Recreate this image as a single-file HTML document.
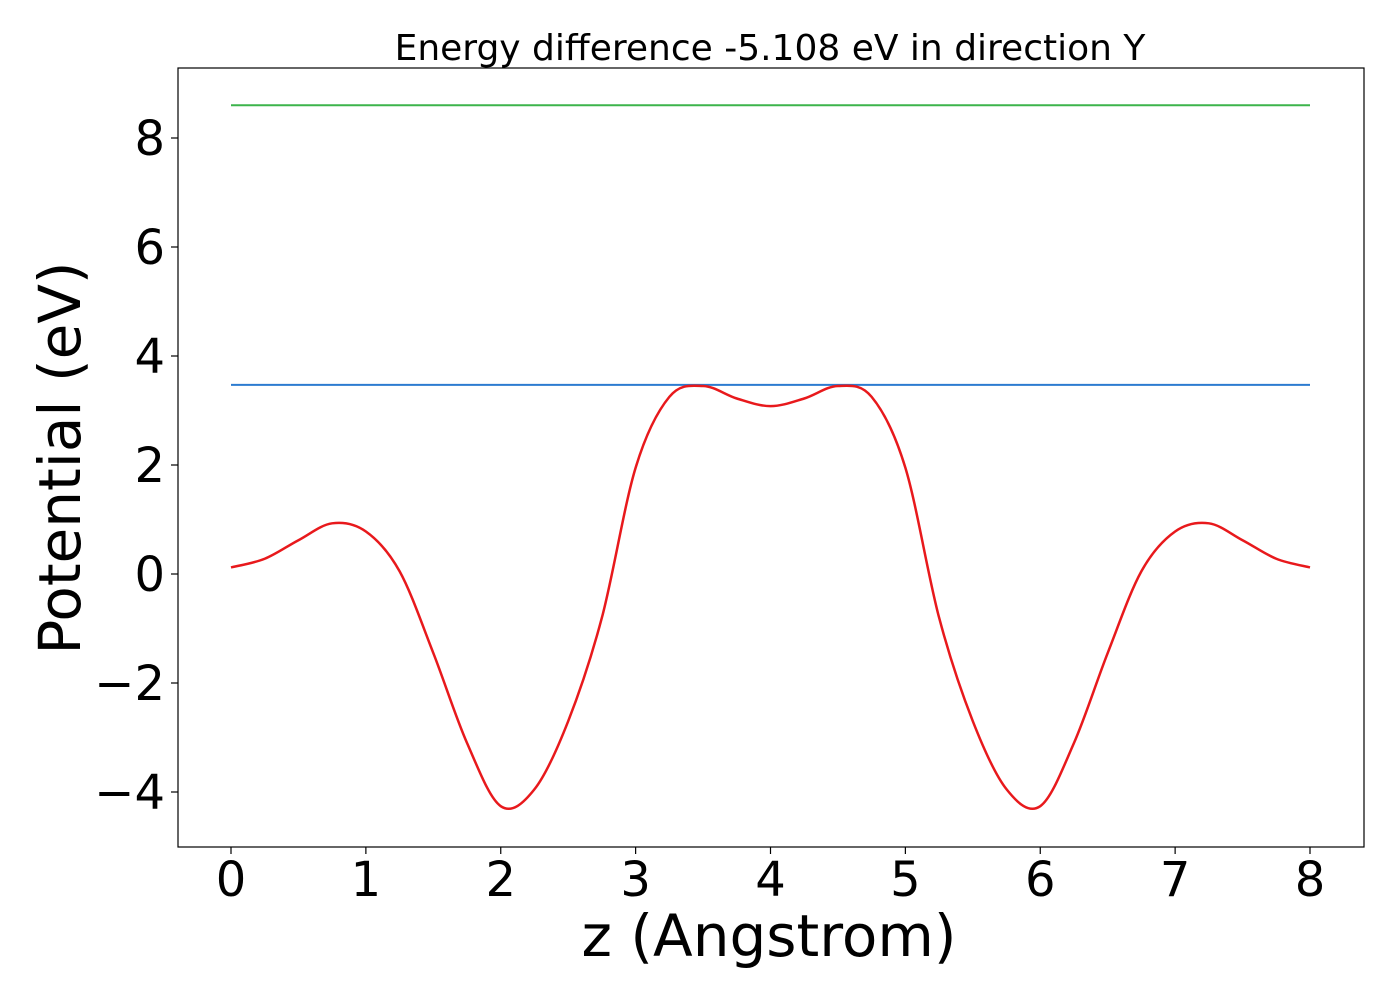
<!DOCTYPE html>
<html><head><meta charset="utf-8"><style>
body{margin:0;background:#fff;}
svg text{font-family:"DejaVu Sans","Liberation Sans",sans-serif;fill:#000;}
</style></head><body>
<svg id="chart" width="1400" height="1000" xmlns="http://www.w3.org/2000/svg">
<rect x="0" y="0" width="1400" height="1000" fill="#fff"/>
<text x="770" y="60" font-size="36" text-anchor="middle">Energy difference -5.108 eV in direction Y</text>
<g id="plot"></g>
<rect x="178" y="68" width="1186" height="779" fill="none" stroke="#000" stroke-width="1.2"/>
<text x="769" y="956" font-size="58" text-anchor="middle">z (Angstrom)</text>
<text transform="translate(80,458) rotate(-90)" font-size="58" text-anchor="middle">Potential (eV)</text>
</svg>
<script>
const zValues=[0,0.25,0.5,0.75,1,1.25,1.5,1.75,2,2.25,2.5,2.75,3,3.25,3.5,3.75,4,4.25,4.5,4.75,5,5.25,5.5,5.75,6,6.25,6.5,6.75,7,7.25,7.5,7.75,8];
const potential=[0.12,0.28,0.62,0.93,0.78,0.05,-1.45,-3.1,-4.26,-3.95,-2.7,-0.8,1.95,3.25,3.45,3.22,3.08,3.22,3.45,3.25,1.95,-0.8,-2.7,-3.95,-4.26,-3.1,-1.45,0.05,0.78,0.93,0.62,0.28,0.12];
const vacuumLevel=8.6;
const barrierLevel=3.47;
const xTicks=[0,1,2,3,4,5,6,7,8];
const yTicks=[-4,-2,0,2,4,6,8];
const X=v=>231+v*134.875;
const Y=v=>574-v*54.5;
const NS="http://www.w3.org/2000/svg";
const g=document.getElementById('plot');
function mk(t,a){const e=document.createElementNS(NS,t);for(const k in a)e.setAttribute(k,a[k]);g.appendChild(e);return e;}
xTicks.forEach(t=>{
 const l=mk('line',{x1:X(t),x2:X(t),y1:847,y2:854,stroke:'#000','stroke-width':1.2});
 
 
 const s=mk('text',{x:X(t),y:896,'font-size':48,'text-anchor':'middle'});s.textContent=String(t);
 
 
});
yTicks.forEach(t=>{
 const l=mk('line',{x1:171,x2:178,y1:Y(t),y2:Y(t),stroke:'#000','stroke-width':1.2});
 
 
 const s=mk('text',{x:165,y:Y(t)+17,'font-size':48,'text-anchor':'end'});s.textContent=(t<0?'\u2212'+(-t):String(t));
 
 
});
const gl=mk('line',{x1:X(0),x2:X(8),y1:Y(vacuumLevel),y2:Y(vacuumLevel),stroke:'#3cb44b','stroke-width':2});


const bl=mk('line',{x1:X(0),x2:X(8),y1:Y(barrierLevel),y2:Y(barrierLevel),stroke:'#2c7bd0','stroke-width':2});


const P=zValues.map((z,i)=>[X(z),Y(potential[i])]);
let d='M'+P[0][0]+','+P[0][1];
for(let i=0;i<P.length-1;i++){
 const p0=P[Math.max(i-1,0)],p1=P[i],p2=P[i+1],p3=P[Math.min(i+2,P.length-1)];
 const c1=[p1[0]+(p2[0]-p0[0])/6,p1[1]+(p2[1]-p0[1])/6];
 const c2=[p2[0]-(p3[0]-p1[0])/6,p2[1]-(p3[1]-p1[1])/6];
 d+=' C'+c1.join(',')+' '+c2.join(',')+' '+p2.join(',');
}
const c=mk('path',{d:d,fill:'none',stroke:'#e8191c','stroke-width':2.5});


</script>
</body></html>
